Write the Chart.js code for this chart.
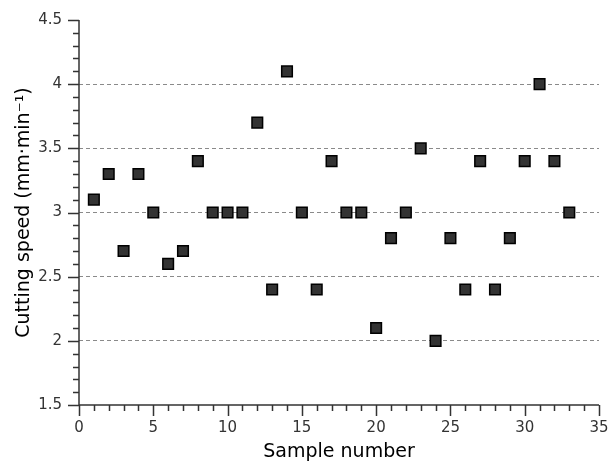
<!DOCTYPE html>
<html lang="en">
    <head>
        <meta charset="utf-8" />
        <title>Cutting speed</title>
        <style>
            html, body { margin: 0; padding: 0; background: #fff; }
        </style>
    </head>
    <body>
        <canvas id="speed" width="608" height="463"></canvas>
        <script src="https://cdn.jsdelivr.net/npm/chart.js@4.4.1/dist/chart.umd.min.js"></script>
        <script>
            // values
            var samples = [1, 2, 3, 4, 5, 6, 7, 8, 9, 10, 11, 12, 13, 14, 15, 16, 17, 18, 19, 20, 21, 22, 23, 24, 25, 26, 27, 28, 29, 30, 31, 32, 33];
            var speeds = [3.1, 3.3, 2.7, 3.3, 3.0, 2.6, 2.7, 3.4, 3.0, 3.0, 3.0, 3.7, 2.4, 4.1, 3.0, 2.4, 3.4, 3.0, 3.0, 2.1, 2.8, 3.0, 3.5, 2.0, 2.8, 2.4, 3.4, 2.4, 2.8, 3.4, 4.0, 3.4, 3.0];
            var gridValues = [2, 2.5, 3, 3.5, 4];

            var puntos = samples.map(function (s, i) { return { x: s, y: speeds[i] }; });

            // axis lines plus major / minor ticks, pointing outwards
            var ejes = {
                id: "ejes",
                afterDraw: function (chart) {
                    var ctx = chart.ctx;
                    var xs = chart.scales.x;
                    var ys = chart.scales.y;
                    var area = chart.chartArea;
                    ctx.save();
                    ctx.strokeStyle = "#333";
                    ctx.lineWidth = 1.5;
                    ctx.beginPath();
                    ctx.moveTo(area.left, area.top);
                    ctx.lineTo(area.left, area.bottom);
                    ctx.lineTo(area.right, area.bottom);
                    for (var i = 0; i <= 30; i++) {
                        var py = Math.round(ys.getPixelForValue(1.5 + i * 0.1)) + 0.5;
                        var len = i % 5 == 0 ? 11 : 6;
                        ctx.moveTo(area.left, py);
                        ctx.lineTo(area.left - len, py);
                    }
                    for (var j = 0; j <= 35; j++) {
                        var px = Math.round(xs.getPixelForValue(j)) + 0.5;
                        var len2 = j % 5 == 0 ? 11 : 6;
                        ctx.moveTo(px, area.bottom);
                        ctx.lineTo(px, area.bottom + len2);
                    }
                    ctx.stroke();
                    ctx.restore();
                }
            };

            new Chart(document.getElementById("speed").getContext("2d"), {
                type: "scatter",
                data: {
                    datasets: [{
                        label: "Cutting speed",
                        data: puntos,
                        pointStyle: "rect",
                        pointRadius: 7.5,
                        pointHoverRadius: 7.5,
                        backgroundColor: "#333",
                        borderColor: "#000",
                        borderWidth: 1.5
                    }]
                },
                options: {
                    responsive: false,
                    animation: false,
                    layout: { padding: { top: 20, right: 8, left: 0, bottom: 0 } },
                    plugins: {
                        legend: { display: false },
                        tooltip: { enabled: false }
                    },
                    scales: {
                        x: {
                            type: "linear",
                            min: 0,
                            max: 35,
                            afterFit: function (s) { s.height = 58; s.paddingLeft = 0; s.paddingRight = 0; },
                            grid: { display: false, drawTicks: false },
                            border: { display: false },
                            ticks: { stepSize: 5, padding: 14, color: "#333", font: { family: "DejaVu Sans", size: 15 } },
                            title: { display: true, text: "Sample number", color: "#000", padding: { top: 0, bottom: 0 }, font: { family: "DejaVu Sans", size: 19 } }
                        },
                        y: {
                            min: 1.5,
                            max: 4.5,
                            afterFit: function (s) { s.width = 79; s.paddingTop = 0; s.paddingBottom = 0; },
                            grid: {
                                drawTicks: false,
                                lineWidth: 1,
                                color: function (c) {
                                    return c.tick && gridValues.indexOf(c.tick.value) >= 0 ? "#8a8a8a" : "rgba(0,0,0,0)";
                                }
                            },
                            border: { display: false, dash: [4, 3] },
                            ticks: {
                                stepSize: 0.5,
                                padding: 17,
                                color: "#333",
                                font: { family: "DejaVu Sans", size: 15 },
                                callback: function (v) { return String(v); }
                            },
                            title: { display: true, text: "Cutting speed (mm·min⁻¹)", color: "#000", padding: { top: 13, bottom: 0 }, font: { family: "DejaVu Sans", size: 19 } }
                        }
                    }
                },
                plugins: [ejes]
            });
        </script>
    </body>
</html>
